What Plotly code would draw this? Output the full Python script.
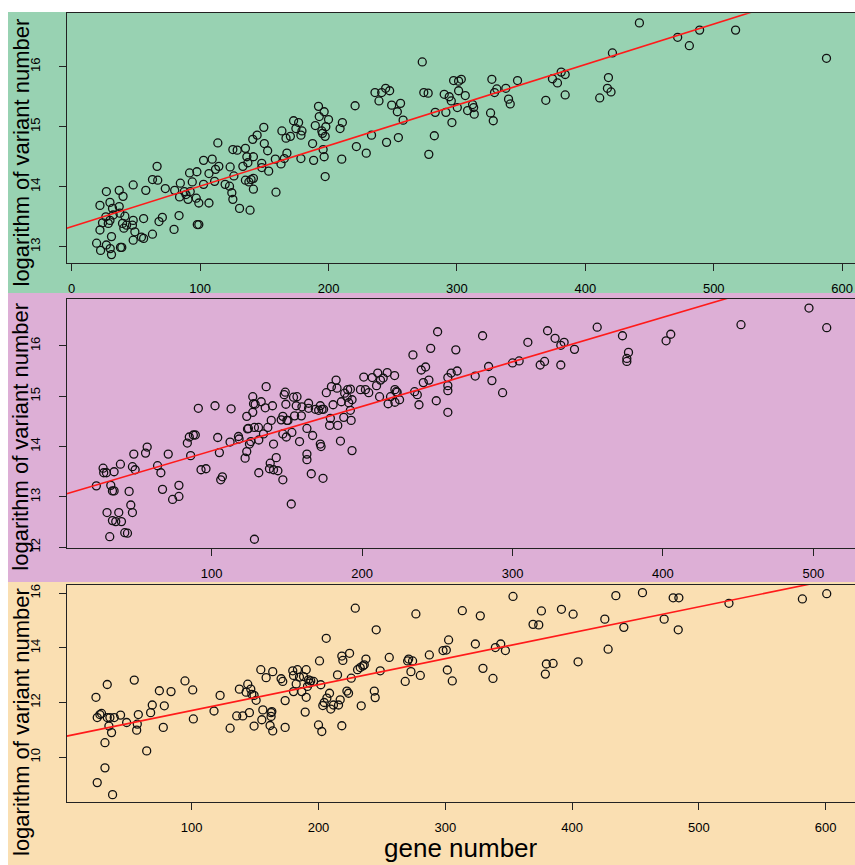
import plotly.graph_objects as go

# ---------------- data ----------------
gene_number_1 = [19.4,22,22.5,22,24,27,26.6,27,28.5,29.8,29.8,30,31,31,31.8,32.3,37,37,37.5,38,39,39.6,40,40.6,41.4,42.7,47.3,47.9,47.9,47.9,49.2,54.3,56,56,57.7,62.9,62.9,66.5,67,68,70.6,72.9,79.7,80.2,83.6,84.6,84,87.7,89,90.6,91.8,93.9,92.3,97.5,97,99,97.8,99,102.7,102.7,106.9,106.9,109.4,111.3,112,113.8,114.6,119.5,122.9,123.4,124.7,125.5,125.5,126.3,128.9,130.7,133.3,135.3,135.3,136.4,137.2,138,138.9,139.7,141,141.5,141.5,141.5,144.4,148,148,149.6,150,152.6,153.4,159.1,158.6,163,163.7,165.6,166.9,167.6,170.3,172.8,174.6,176.7,178.5,178.5,179.3,187.6,188.4,189.7,192.2,192.8,194.8,195.3,195.8,196.6,196.6,197.4,197.4,197.9,200,209,210.8,210.3,220.7,221.7,229.4,233.5,236.2,239.3,241.4,244.5,247.6,245.2,249.2,253.6,254.4,256.1,258.1,273,274.2,277.6,278.1,282.4,283.1,290.1,291.4,294,295.6,296.1,297.4,300.3,301.3,301.3,303.4,306.5,308.3,312.2,313,313.5,326.2,327.2,328.3,329.3,331.1,338.1,340.2,341.5,347.2,369.2,374.4,378.3,381.2,384.3,384.3,411.2,417.2,418,420,421.1,442.1,471.9,481,489,517,587.8]
log_variant_1 = [13.06,13.28,12.94,13.69,13.4,13.92,13.5,13.03,13.39,13.44,13.74,12.97,12.87,13.17,13.64,13.53,13.94,13.67,13.56,12.99,12.99,13.39,13.84,13.31,13.51,13.36,13.36,14.03,13.44,13.11,13.25,13.16,13.14,13.47,13.94,14.12,13.21,14.34,14.11,13.42,13.49,13.97,13.29,13.94,13.52,14.06,13.83,13.92,13.87,13.79,14.23,14.08,13.92,14.25,13.81,13.73,13.37,13.37,14.44,14.04,14.22,13.73,14.46,14.09,14.29,14.73,14.34,14.04,14.01,14.33,13.9,14.62,13.79,14.18,14.61,13.64,14.34,14.64,14.11,14.5,14.4,14.08,13.61,14.12,14.79,14.14,14.5,13.96,14.86,14.39,14.32,14.99,14.72,14.6,14.26,13.91,14.46,14.38,14.93,14.47,14.81,14.56,14.84,15.1,14.97,15.07,14.86,14.47,14.93,14.72,14.44,15.02,15.34,15.17,14.93,14.89,14.62,15.25,14.5,14.17,14.84,15.0,15.12,14.97,15.07,14.46,15.35,14.67,14.56,14.86,15.57,15.43,15.57,15.64,15.6,14.74,15.36,15.25,14.82,15.39,15.11,16.08,15.57,15.56,14.54,14.85,15.24,15.54,15.24,15.5,15.43,15.07,15.77,15.32,15.6,15.76,15.79,15.52,15.27,15.37,15.32,15.21,15.23,15.79,15.1,15.57,15.63,15.64,15.46,15.38,15.77,15.44,15.8,15.73,15.91,15.87,15.53,15.48,15.64,15.82,15.58,16.23,16.73,16.49,16.35,16.61,16.61,16.14]

gene_number_2 = [23.3,27.8,28.2,30,30.4,32.2,32.9,34,35.1,34,35.1,36.2,38.2,39.3,40,42.2,44,45.1,46.2,47.3,47.3,48.2,49.1,56,57.1,64,66.2,67.3,71.1,74,78.2,78.2,83.8,85.1,86,87.8,89.1,91.1,92.9,96.2,102.2,104,105.1,106,107.1,112.2,112.9,117.8,118.2,122.2,123.3,123.3,123.8,124.4,125.1,126,127.3,127.3,127.8,128.4,128.4,128.9,131.1,131.3,131.3,132.9,134.4,135.6,136.2,137.3,138.4,138.9,139.6,140.4,141.1,141.1,142.9,144,146.2,147.3,147.3,147.3,148.2,148.9,149.3,149.6,150,150.7,152.9,153.3,154.4,155.1,156.2,156.7,158.4,159.6,160,163.3,163.3,163.3,164.4,164.4,166.2,167.1,168.9,171.1,172.2,172.2,172.7,173.3,174,174.4,176.2,178.4,178.9,179.6,180.7,182.7,183.3,183.8,185.6,186.2,187.8,188.4,190,190.4,191.1,192.2,192.2,192.7,193.3,193.3,198.9,201.1,202.2,204.4,206.7,209.6,210.4,211.6,212.2,214,216.7,217.3,218.9,221.6,221.8,221.8,222.7,223.3,224.9,233.8,234.9,236.7,237.8,239.3,240.7,242.2,244.4,245.6,250.2,249.3,257,257,257,257,259.2,262.3,263.2,275.2,280.1,284.1,286.3,293.4,300,304.4,310.2,318.4,321.3,323.3,328.3,332.1,334.3,332.1,341.2,356.3,373.1,376,376,377.1,402.1,405.2,451.9,497.1,508.9]
log_variant_2 = [13.22,13.57,13.48,13.48,12.69,12.21,13.23,13.12,13.12,12.53,13.5,12.51,12.69,13.65,12.51,12.29,12.28,13.11,12.84,12.69,13.6,13.85,13.54,13.87,13.99,13.62,13.48,13.15,13.85,12.95,13.01,13.23,14.07,14.19,13.82,14.23,14.23,14.76,13.54,13.56,14.81,14.18,13.88,13.34,13.4,14.09,14.75,14.2,14.15,13.77,14.6,13.9,14.35,14.36,14.05,14.1,14.99,14.68,14.85,14.38,12.16,14.84,14.38,14.13,13.48,14.89,14.25,14.77,15.19,14.38,13.56,13.67,14.52,14.81,14.05,13.54,13.78,13.52,14.53,14.6,14.25,13.34,15.03,15.08,14.84,14.19,14.52,14.52,12.86,14.28,14.98,14.61,14.81,14.99,14.1,14.61,14.79,13.85,13.74,14.36,14.86,14.76,13.46,14.22,14.74,14.72,14.81,14.05,14.0,14.74,13.37,14.74,15.07,14.42,14.56,15.19,14.83,15.32,15.16,14.42,14.11,14.89,14.58,15.06,14.98,15.13,14.87,15.14,14.72,14.52,13.92,14.93,15.13,15.38,15.13,15.07,15.37,15.21,15.46,14.99,15.32,15.36,15.47,14.85,14.99,15.41,15.13,14.88,15.09,15.08,14.93,15.82,15.09,15.03,14.83,15.52,15.27,15.58,15.32,15.95,16.28,14.91,15.37,15.21,15.11,14.68,15.46,15.92,15.5,15.4,16.2,15.59,15.31,15.07,15.66,15.7,16.07,15.62,15.69,16.3,16.15,16.01,16.07,15.62,15.93,16.37,16.2,15.75,15.69,15.87,16.1,16.23,16.42,16.75,16.36]

gene_number_3 = [24.5,25.5,25.5,27.6,28.9,31.6,31.6,33.4,33.4,34.7,35.5,36.8,37.6,38.9,43.9,48.7,54.7,56.6,57.1,57.9,64.5,67.6,68.9,74.5,77.6,78.4,83.7,94.7,100.8,101.3,117.6,122.4,130.3,135.5,137.6,140.3,142.9,144.2,145.5,146.6,147.4,149.2,149.2,150.8,154.5,155.3,156.1,158.7,161.8,162.6,162.6,163.2,163.9,163.9,170.5,171.8,173.7,173.7,179.7,180.3,180.3,182.4,183.4,185,186.8,188.2,189.5,190.3,190.3,191.3,192.1,192.9,193.9,196.1,200,200.8,201.8,202.6,203.4,204.5,206.1,206.6,208.7,209.7,211.8,215,215.8,217.1,218.4,218.4,219.2,222.4,223.7,224.5,225.8,229,230.8,232.9,233.7,235,236.1,237.4,244,245.5,244.7,248.7,255.8,268.4,270.3,271.1,272.9,274.2,276.8,280.3,287.4,298.2,300.8,302.6,301.6,305.5,313.4,323.7,327.6,329.7,337.6,339.5,343.7,347.4,353.4,369.2,373.7,375.8,378.9,379.7,385,391.6,400.8,404.7,425.8,428.4,434.5,440.8,455.5,472.6,479.7,484.2,483.7,523.7,581.6,600.8]
log_variant_3 = [12.19,11.45,9.07,11.56,11.6,10.53,9.61,12.66,11.45,11.14,11.45,10.9,8.63,11.45,11.54,11.27,12.82,10.99,11.21,11.56,10.23,11.63,11.91,12.43,11.09,11.88,12.4,12.79,12.46,11.4,11.69,12.26,11.06,11.51,12.49,11.51,12.38,12.67,11.63,12.49,12.3,11.14,12.26,12.08,13.2,11.37,11.73,12.91,11.16,11.63,11.49,11.67,13.13,10.96,12.87,12.77,11.09,12.07,13.16,12.99,12.4,12.68,13.2,12.93,12.4,12.95,11.65,13.2,12.19,12.59,12.83,12.71,12.79,12.77,11.18,13.52,12.65,10.94,11.89,12.0,14.35,12.16,12.34,11.76,11.91,13.01,11.91,12.1,11.15,13.7,13.54,12.42,12.34,13.8,12.89,15.45,13.2,13.28,11.88,13.34,13.38,13.59,12.42,14.66,12.18,13.16,13.65,12.77,13.52,13.59,13.13,13.52,15.24,12.99,13.74,13.9,13.92,14.29,13.19,12.79,15.36,14.14,15.17,13.25,12.88,14.01,14.14,13.9,15.88,14.86,14.84,15.35,13.04,13.41,13.43,15.41,15.23,13.49,15.05,13.95,15.91,14.75,16.02,15.05,15.83,15.83,14.66,15.63,15.79,15.98]

# fitted regression lines (intercept, slope) as drawn in the reference
fit_intercept = [13.336, 13.03, 10.757]
fit_slope = [0.00675, 0.00884, 0.00949]

x_tick_values = [[0, 100, 200, 300, 400, 500, 600],
                 [100, 200, 300, 400, 500],
                 [100, 200, 300, 400, 500, 600]]
y_tick_values = [[13, 14, 15, 16],
                 [12, 13, 14, 15, 16],
                 [10, 12, 14, 16]]

panel_colors = ["#98D2B2", "#DDAFD6", "#FADFB2"]
x_title = "gene number"
y_title = "logarithm of variant number"

# ---------------- layout geometry ----------------
W, H = 855, 865
x_ranges = [[-3.89, 610.0], [3.59, 527.7], [1.42, 623.1]]
y_ranges = [[12.73, 16.89], [11.98, 16.93], [8.35, 16.31]]
plot_px = [(13.3, 263.0), (299.0, 548.3), (584.7, 802.3)]   # top, bottom
bg_px = [(12, 293), (293, 582), (582, 865)]
ytitle_center_px = [152.5, 436.7, 722.0]

FONT = "Liberation Sans, Arial, Helvetica, sans-serif"

fig = go.Figure()
data = [(gene_number_1, log_variant_1), (gene_number_2, log_variant_2), (gene_number_3, log_variant_3)]

layout = dict(
    width=W, height=H,
    margin=dict(l=0, r=0, t=0, b=0, autoexpand=False),
    paper_bgcolor="white",
    plot_bgcolor="rgba(0,0,0,0)",
    showlegend=False,
    font=dict(family=FONT, color="black"),
    shapes=[], annotations=[],
)

for i, (gx, gy) in enumerate(data):
    s = "" if i == 0 else str(i + 1)
    xa, ya = "x" + s, "y" + s
    fig.add_trace(go.Scatter(
        x=gx, y=gy, mode="markers", xaxis=xa, yaxis=ya,
        marker=dict(symbol="circle-open", size=8, color="#111111",
                    line=dict(width=1.3, color="#111111")),
        hoverinfo="skip"))
    xr = x_ranges[i]
    fig.add_trace(go.Scatter(
        x=xr, y=[fit_intercept[i] + fit_slope[i] * v for v in xr],
        mode="lines", xaxis=xa, yaxis=ya,
        line=dict(color="#FF1A1A", width=1.6), hoverinfo="skip"))

    top, bot = plot_px[i]
    dom_y = [1 - bot / H, 1 - top / H]
    layout["xaxis" + s] = dict(
        domain=[66.7 / W, 1.0], range=xr, anchor=ya, automargin=False,
        showgrid=False, zeroline=False,
        showline=True, linecolor="#222222", linewidth=1, mirror=True,
        ticks="outside", ticklen=7, tickcolor="#222222", tickwidth=1,
        tickvals=x_tick_values[i], ticklabelstandoff=6,
        tickfont=dict(family=FONT, size=13, color="black"))
    layout["yaxis" + s] = dict(
        domain=dom_y, range=y_ranges[i], anchor=xa, automargin=False,
        showgrid=False, zeroline=False,
        showline=True, linecolor="#222222", linewidth=1, mirror=False,
        ticks="outside", ticklen=7, tickcolor="#222222", tickwidth=1,
        tickvals=y_tick_values[i], tickangle=-90, ticklabelstandoff=14,
        tickfont=dict(family=FONT, size=13, color="black"))

    b0, b1 = bg_px[i]
    layout["shapes"].append(dict(
        type="rect", xref="paper", yref="paper", layer="below",
        x0=8 / W, x1=1.0, y0=1 - b1 / H, y1=1 - b0 / H,
        fillcolor=panel_colors[i], line=dict(width=0)))

    layout["annotations"].append(dict(
        text=y_title, xref="paper", yref="paper",
        x=21 / W, y=1 - ytitle_center_px[i] / H,
        xanchor="center", yanchor="middle", textangle=-90, showarrow=False,
        font=dict(family=FONT, size=22, color="black")))

layout["annotations"].append(dict(
    text=x_title, xref="paper", yref="paper",
    x=461 / W, y=0.0, xanchor="center", yanchor="bottom",
    height=30, valign="middle",
    showarrow=False, font=dict(family=FONT, size=26, color="black")))

fig.update_layout(**layout)
# the page's default body margin would shift the figure; remove it
fig.write_html("out.html", config={"displayModeBar": False},
               post_script="document.body.style.margin='0';")
